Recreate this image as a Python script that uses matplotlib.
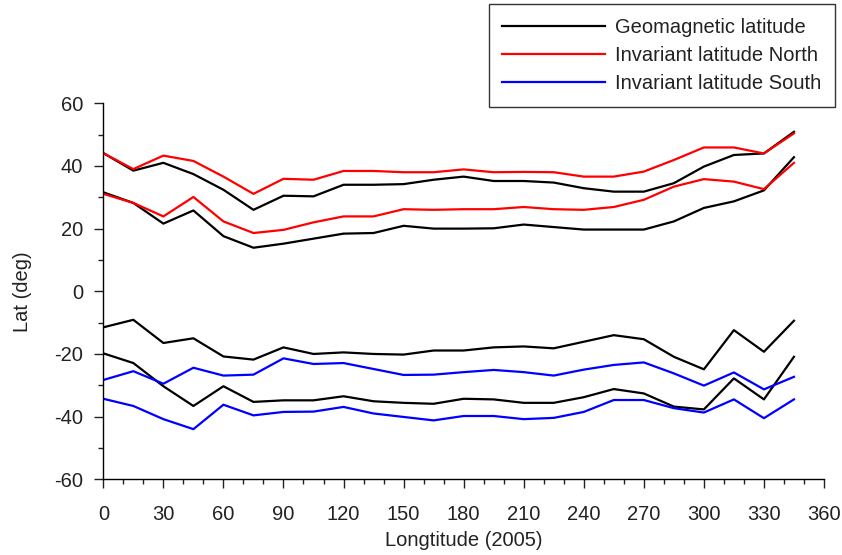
import numpy as np
import matplotlib
matplotlib.use("Agg")
import matplotlib.pyplot as plt
from matplotlib.ticker import MultipleLocator

plt.rcParams['font.family'] = ['Liberation Sans', 'DejaVu Sans']
plt.rcParams['axes.unicode_minus'] = False

# longitudes, every 15 deg
lon = np.arange(0, 360, 15)

# northern pair (upper / lower edge)
gm_n_hi = [44.1, 38.5, 41, 37.4, 32.4, 26, 30.5, 30.3, 34, 34, 34.2, 35.6,
           36.6, 35.2, 35.2, 34.7, 32.9, 31.8, 31.8, 34.5, 39.8, 43.5, 44, 50.9]
inv_n_hi = [44.1, 39, 43.3, 41.6, 36.6, 31.1, 35.9, 35.6, 38.4, 38.4, 38, 38,
            38.9, 38, 38.1, 38, 36.6, 36.6, 38.2, 41.9, 45.9, 45.9, 44, 50.4]
gm_n_lo = [31.6, 28.2, 21.6, 25.8, 17.6, 13.9, 15.2, 16.8, 18.4, 18.6, 20.9, 20,
           20, 20.1, 21.3, 20.5, 19.7, 19.7, 19.7, 22.3, 26.6, 28.7, 32.2, 42.8]
inv_n_lo = [31.1, 28.2, 23.9, 30.1, 22.3, 18.6, 19.6, 22, 23.9, 23.9, 26.2, 26,
            26.2, 26.2, 26.9, 26.2, 26, 26.9, 29.2, 33.4, 35.8, 35, 32.6, 41]

# southern pair
gm_s_hi = [-11.5, -9.1, -16.5, -15, -20.8, -21.8, -17.9, -20, -19.5, -20, -20.2, -18.9,
           -18.9, -17.9, -17.6, -18.2, -16.1, -14, -15.3, -20.9, -24.9, -12.4, -19.3, -9.4]
inv_s_hi = [-28.3, -25.5, -29.5, -24.4, -26.9, -26.6, -21.4, -23.2, -22.9, -24.8, -26.7, -26.6,
            -25.8, -25.1, -25.8, -26.9, -25, -23.5, -22.7, -26.2, -30.1, -25.9, -31.3, -27.3]
gm_s_lo = [-19.8, -22.9, -30.3, -36.6, -30.3, -35.3, -34.8, -34.8, -33.5, -35.1, -35.6, -35.9,
           -34.3, -34.5, -35.6, -35.6, -33.8, -31.2, -32.6, -36.8, -37.7, -27.8, -34.5, -20.9]
inv_s_lo = [-34.3, -36.6, -40.8, -44, -36.2, -39.6, -38.5, -38.4, -36.9, -39, -40.1, -41.2,
            -39.8, -39.8, -40.8, -40.4, -38.5, -34.7, -34.7, -37.3, -38.7, -34.5, -40.5, -34.5]

fs = 14.5
txt = '#222222'

fig = plt.figure(figsize=(8.42, 5.55), dpi=100)
ax = fig.add_axes([0.1227, 0.1364, 0.8559, 0.6775])

lw = 1.6
l1, = ax.plot(lon, gm_n_hi, color='black', lw=lw)
ax.plot(lon, gm_n_lo, color='black', lw=lw)
ax.plot(lon, gm_s_hi, color='black', lw=lw)
ax.plot(lon, gm_s_lo, color='black', lw=lw)
l2, = ax.plot(lon, inv_n_hi, color='red', lw=lw)
ax.plot(lon, inv_n_lo, color='red', lw=lw)
l3, = ax.plot(lon, inv_s_hi, color='blue', lw=lw)
ax.plot(lon, inv_s_lo, color='blue', lw=lw)

ax.set_xlim(0, 360)
ax.set_ylim(-60, 60)
ax.xaxis.set_major_locator(MultipleLocator(30))
ax.xaxis.set_minor_locator(MultipleLocator(10))
ax.yaxis.set_major_locator(MultipleLocator(20))
ax.yaxis.set_minor_locator(MultipleLocator(10))

for s in ['top', 'right']:
    ax.spines[s].set_visible(False)
for s in ['left', 'bottom']:
    ax.spines[s].set_linewidth(1.0)

ax.tick_params(which='major', direction='out', length=6.5, width=1.0,
               labelsize=fs, colors=txt)
ax.tick_params(axis='x', which='major', pad=12)
ax.tick_params(axis='y', which='major', pad=8)
ax.tick_params(which='minor', direction='out', length=3.3, width=1.0, colors=txt)

ax.set_xlabel('Longtitude (2005)', fontsize=fs, color=txt, labelpad=5)
ax.set_ylabel('Lat (deg)', fontsize=fs, color=txt, labelpad=16)

leg = fig.legend([l1, l2, l3],
                 ['Geomagnetic latitude', 'Invariant latitude North', 'Invariant latitude South'],
                 loc='upper right', bbox_to_anchor=(0.9917, 0.9928),
                 fontsize=fs, frameon=True, fancybox=False, shadow=False,
                 handlelength=5.1, handletextpad=0.5, labelspacing=0.45,
                 borderpad=0.68, borderaxespad=0)
leg.get_frame().set_edgecolor('black')
leg.get_frame().set_linewidth(1.0)
for t in leg.get_texts():
    t.set_color(txt)

fig.savefig('out.png', dpi=100)
